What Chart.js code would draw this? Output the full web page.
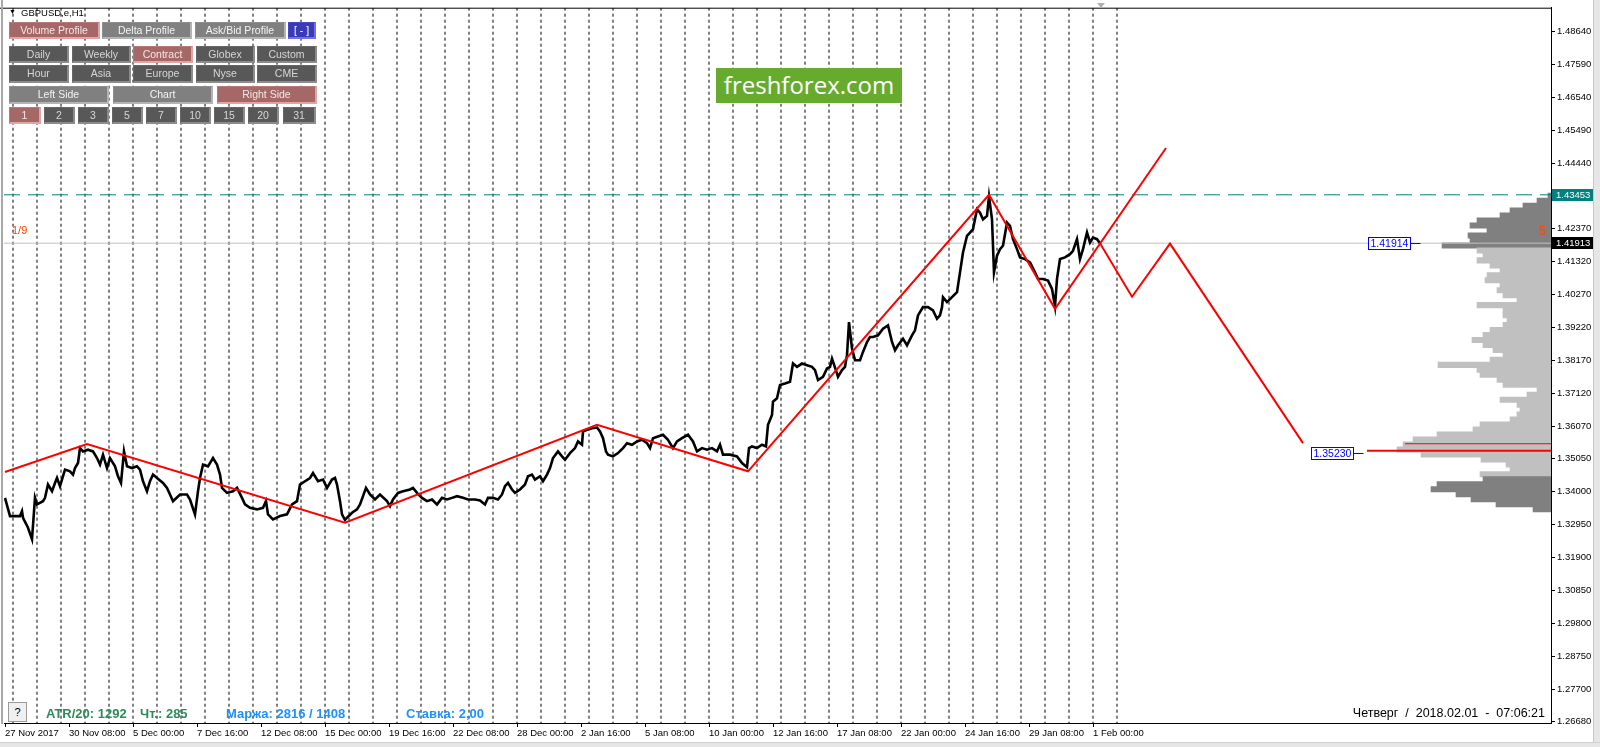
<!DOCTYPE html>
<html><head><meta charset="utf-8">
<script src="https://cdn.jsdelivr.net/npm/chart.js@4.4.1/dist/chart.umd.min.js"></script>
<style>
html,body{margin:0;padding:0;background:#fff;}
#wrap{position:relative;width:1600px;height:747px;overflow:hidden;font-family:"Liberation Sans",Arial,sans-serif;}
#c{position:absolute;left:0;top:0;}
.ov{position:absolute;z-index:5;white-space:pre;}
.b{position:absolute;z-index:6;box-sizing:border-box;text-align:center;font-size:10.5px;white-space:nowrap;overflow:hidden;}
.red{background:#a66767;color:#f6e6e6;border:1px solid #b77a7a;border-right:2px solid #e2a4a4;border-bottom:2px solid #e2a4a4;}
.gray{background:#808080;color:#f4f4f4;border:1px solid #8e8e8e;border-right:2px solid #b4b4b4;border-bottom:2px solid #b4b4b4;}
.dark{background:#585858;color:#d6d6d6;border:1px solid #666;border-right:2px solid #8c8c8c;border-bottom:2px solid #8c8c8c;}
.blue{background:#3a3ab6;color:#fff;border:1px solid #4848c8;border-right:2px solid #7070f0;border-bottom:2px solid #7070f0;}
</style></head>
<body>
<div id="wrap">
<canvas id="c" width="1600" height="747"></canvas>
</div>
<script>
// ---------------- DATA ----------------
const xTickBars = [0,64,128,192,256,320,384,448,512,576,640,704,768,832,896,960,1024,1088];
const xTickLabels = ["27 Nov 2017","30 Nov 08:00","5 Dec 00:00","7 Dec 16:00","12 Dec 08:00","15 Dec 00:00","19 Dec 16:00","22 Dec 08:00","28 Dec 00:00","2 Jan 16:00","5 Jan 08:00","10 Jan 00:00","12 Jan 16:00","17 Jan 08:00","22 Jan 00:00","24 Jan 16:00","29 Jan 08:00","1 Feb 00:00"];
const yTickValues = [1.48640,1.47590,1.46540,1.45490,1.44440,1.42370,1.41320,1.40270,1.39220,1.38170,1.37120,1.36070,1.35050,1.34000,1.32950,1.31900,1.30850,1.29800,1.28750,1.27700,1.26680];
const daySeparatorBars = [8,32,56,80,104,128,152,176,200,224,248,272,296,320,344,368,392,416,440,464,488,512,536,560,584,608,632,656,680,704,728,752,776,800,824,848,872,896,920,944,968,992,1016,1040,1064,1088,1112];

const priceBars = [0,5,15,17,18,23,27,30,32,38,40,43,47,50,52,55,60,65,68,70,73,75,78,83,88,92,95,98,102,105,110,113,116,119,122,127,132,135,138,142,145,148,152,158,162,165,168,175,182,185,190,193,195,198,203,208,212,215,217,222,228,232,237,240,245,252,258,261,263,268,275,282,287,292,295,300,305,308,313,318,322,327,330,332,335,337,340,342,347,352,355,361,365,370,375,382,385,388,393,398,405,408,412,417,422,427,432,437,442,447,452,458,463,470,475,480,483,488,493,497,500,503,507,510,515,520,523,527,530,535,538,542,545,548,553,557,560,565,570,573,577,578,582,587,592,595,598,601,603,608,613,618,622,627,632,637,642,645,648,653,658,663,668,672,677,683,688,692,697,702,707,712,715,718,725,732,737,742,744,747,752,757,761,763,767,768,772,775,780,785,788,792,797,802,807,810,813,818,822,825,827,832,833,837,840,842,844,847,850,855,858,862,865,868,873,878,883,887,890,893,898,902,907,910,913,918,923,928,932,935,937,938,942,947,952,955,958,962,965,968,972,975,978,982,984,987,989,992,995,998,1002,1005,1008,1012,1015,1020,1025,1030,1033,1038,1043,1047,1050,1052,1055,1060,1065,1068,1072,1075,1078,1082,1085,1088,1092,1095];
const priceValues = [1.33805,1.33225,1.33225,1.33384,1.33172,1.32855,1.32488,1.33805,1.33596,1.33700,1.33805,1.34229,1.34017,1.34280,1.34438,1.34176,1.34705,1.34651,1.34546,1.34755,1.34914,1.35389,1.35284,1.35338,1.35284,1.35072,1.34863,1.35180,1.34755,1.35072,1.34809,1.34492,1.34280,1.35284,1.34809,1.34755,1.34809,1.34705,1.34334,1.34017,1.34334,1.34546,1.34438,1.34280,1.34122,1.33913,1.33700,1.33913,1.33913,1.33754,1.33279,1.34017,1.34438,1.34863,1.34809,1.35072,1.34863,1.34546,1.34122,1.33963,1.34017,1.34122,1.33805,1.33596,1.33488,1.33438,1.33488,1.33700,1.33279,1.33121,1.33225,1.33279,1.33596,1.33700,1.34229,1.34334,1.34438,1.34597,1.34334,1.34388,1.34122,1.34388,1.34438,1.34229,1.33700,1.33279,1.33100,1.33172,1.33330,1.33438,1.33596,1.34122,1.33913,1.33754,1.33913,1.33700,1.33542,1.33754,1.33963,1.34017,1.34071,1.34122,1.33963,1.33805,1.33700,1.33754,1.33596,1.33805,1.33754,1.33805,1.33859,1.33805,1.33754,1.33754,1.33723,1.33596,1.33805,1.33805,1.33754,1.33913,1.34176,1.34280,1.34071,1.33963,1.34071,1.34229,1.34492,1.34546,1.34388,1.34492,1.34334,1.34546,1.34755,1.35072,1.35284,1.35126,1.35021,1.35230,1.35389,1.35601,1.35496,1.35918,1.35971,1.36022,1.36044,1.35918,1.35705,1.35284,1.35180,1.35126,1.35230,1.35389,1.35547,1.35496,1.35601,1.35655,1.35547,1.35389,1.35705,1.35759,1.35813,1.35655,1.35389,1.35601,1.35705,1.35813,1.35601,1.35284,1.35389,1.35338,1.35389,1.35284,1.35496,1.35180,1.35180,1.35126,1.34914,1.34780,1.35389,1.35442,1.35389,1.35496,1.35442,1.36130,1.36446,1.36868,1.36972,1.37397,1.37447,1.37501,1.38081,1.37976,1.38081,1.38030,1.37976,1.37872,1.37555,1.37659,1.37922,1.37976,1.38239,1.37764,1.37659,1.37872,1.37976,1.38347,1.39401,1.38556,1.38188,1.38188,1.38451,1.38768,1.38926,1.38926,1.38980,1.39189,1.39297,1.38768,1.38505,1.38663,1.38872,1.38663,1.38980,1.39138,1.39614,1.39876,1.39876,1.39772,1.39506,1.39614,1.39876,1.40193,1.40035,1.40193,1.40351,1.40985,1.41618,1.42147,1.42252,1.42356,1.42990,1.42885,1.42673,1.42781,1.43400,1.42673,1.40985,1.41514,1.41723,1.41830,1.42568,1.42464,1.42040,1.41723,1.41460,1.41406,1.41302,1.40985,1.40773,1.40773,1.40722,1.40456,1.39900,1.40773,1.41406,1.41460,1.41564,1.41672,1.42040,1.41406,1.41723,1.42252,1.41935,1.42093,1.42040,1.41913];

const zigzagBars = [0,82,340,592,743,984,1050,1161];
const zigzagValues = [1.34629,1.35516,1.33014,1.36130,1.34651,1.43453,1.39823,1.44944];
const projectionBars = [1095,1127,1165,1298];
const projectionValues = [1.41913,1.40206,1.41900,1.35547];

const currentPrice = 1.41913;
const highLevel = 1.43453;
const pocLevels = [1.35528,1.35306];

const profileLevels = [1.43424,1.43265,1.43107,1.42949,1.42790,1.42632,1.42473,1.42315,1.42157,1.41998,1.41840,1.41682,1.41523,1.41365,1.41207,1.41048,1.40890,1.40731,1.40573,1.40415,1.40256,1.40098,1.39940,1.39781,1.39623,1.39465,1.39306,1.39148,1.38989,1.38831,1.38673,1.38514,1.38356,1.38198,1.38039,1.37881,1.37722,1.37564,1.37406,1.37247,1.37089,1.36931,1.36772,1.36614,1.36456,1.36297,1.36139,1.35980,1.35822,1.35664,1.35505,1.35347,1.35189,1.35030,1.34872,1.34713,1.34555,1.34397,1.34238,1.34080,1.33922,1.33763,1.33605,1.33447];
const profileVolumes = [3,14,28,41,51,74,81,64,83,81,109,74,68,74,61,51,64,66,51,54,48,34,74,48,48,44,48,61,68,79,68,58,48,61,113,74,71,54,48,14,24,51,34,31,34,41,71,78,114,138,148,154,130,70,45,41,71,68,114,120,95,80,55,18];

const priceLabels = [{bar:1363,price:1.41914,text:"1.41914"},{bar:1306,price:1.35230,text:"1.35230"}];
const axisMarks = [{price:1.43453,bg:"#008080",fg:"#ffffff"},{price:1.41913,bg:"#000000",fg:"#ffffff"}];

// ---------------- CHART ----------------
const X_MIN=-1, X_MAX=1546, Y_MIN=1.26638, Y_MAX=1.49409;
const pts=(bs,vs)=>bs.map((b,i)=>({x:b,y:vs[i]}));
const sepData=[];
daySeparatorBars.forEach(b=>{sepData.push({x:b,y:Y_MAX},{x:b,y:Y_MIN},{x:b,y:null});});
const FONT='"Liberation Sans", Arial, sans-serif';

const decor={
  id:'decor',
  afterDraw(chart){
    const {ctx,chartArea:a,scales}=chart; const x=scales.x,y=scales.y;
    ctx.save();
    ctx.strokeStyle='#000';ctx.lineWidth=1;
    ctx.beginPath();ctx.moveTo(0,a.top+0.5);ctx.lineTo(a.right+1,a.top+0.5);ctx.stroke();
    ctx.fillStyle='#a8a8a8';ctx.fillRect(1,0,2,a.bottom+1);
    axisMarks.forEach(m=>{
      const py=Math.round(y.getPixelForValue(m.price));
      ctx.fillStyle=m.bg;ctx.fillRect(a.right+1,py-6,42,12);
      ctx.fillStyle=m.fg;ctx.font='9.5px '+FONT;ctx.textBaseline='middle';ctx.textAlign='left';
      ctx.fillText(m.price.toFixed(5),a.right+5,py+0.5);
    });
    priceLabels.forEach(l=>{
      const px=Math.round(x.getPixelForValue(l.bar))+0.5, py=Math.round(y.getPixelForValue(l.price))+0.5;
      ctx.font='10.5px '+FONT;
      const w=Math.round(ctx.measureText(l.text).width)+4;
      ctx.fillStyle='#fff';ctx.fillRect(px,py-6,w,12);
      ctx.strokeStyle='#0000ff';ctx.lineWidth=1;ctx.strokeRect(px,py-6,w,12);
      ctx.beginPath();ctx.moveTo(px+w,py);ctx.lineTo(px+w+10,py);ctx.stroke();
      ctx.fillStyle='#0000ff';ctx.textBaseline='middle';ctx.textAlign='left';
      ctx.fillText(l.text,px+2,py+0.5);
    });
    ctx.restore();
  }
};

new Chart(document.getElementById('c'),{
  type:'line',
  data:{datasets:[
    {label:'projection',data:pts(projectionBars,projectionValues),borderColor:'#ff0000',borderWidth:2,pointRadius:0,order:1},
    {label:'zigzag',data:pts(zigzagBars,zigzagValues),borderColor:'#ff0000',borderWidth:2,pointRadius:0,order:2},
    {label:'poc1',data:[{x:1400,y:pocLevels[0]},{x:X_MAX,y:pocLevels[0]}],borderColor:'#ff0000',borderWidth:1,pointRadius:0,order:3},
    {label:'poc2',data:[{x:1362,y:pocLevels[1]},{x:X_MAX,y:pocLevels[1]}],borderColor:'#ff0000',borderWidth:2,pointRadius:0,order:3},
    {label:'GBPUSD',data:pts(priceBars,priceValues),borderColor:'#000000',borderWidth:2.6,pointRadius:0,tension:0,order:4},
    {label:'high',data:[{x:X_MIN,y:highLevel},{x:X_MAX,y:highLevel}],borderColor:'#008080',borderWidth:1,borderDash:[16,8],pointRadius:0,order:5},
    {label:'bid',data:[{x:X_MIN,y:currentPrice},{x:X_MAX,y:currentPrice}],borderColor:'#c0c0c0',borderWidth:1,pointRadius:0,order:6},
    {type:'bar',label:'profile',indexAxis:'y',xAxisID:'xv',yAxisID:'y',
     data:profileLevels.map((p,i)=>({x:profileVolumes[i],y:p})),
     backgroundColor:(c)=>{const p=profileLevels[c.dataIndex];return (p>=1.4184||p<=1.3440)?'#808080':'#c0c0c0';},
     barThickness:5.4,borderWidth:0,grouped:false,order:7},
    {label:'days',data:sepData,borderColor:'#000000',borderWidth:1,borderDash:[3,3],pointRadius:0,spanGaps:false,order:8}
  ]},
  options:{
    responsive:false,animation:false,devicePixelRatio:1,
    layout:{padding:{left:4,top:4,right:0,bottom:0}},
    plugins:{legend:{display:false},tooltip:{enabled:false}},
    scales:{
      x:{type:'linear',min:X_MIN,max:X_MAX,offset:false,position:'bottom',
        afterBuildTicks:(s)=>{s.ticks=xTickBars.map(v=>({value:v}));},
        afterFit:(s)=>{s.height=24;},
        ticks:{autoSkip:false,maxRotation:0,minRotation:0,align:'start',padding:1,color:'#000',font:{family:FONT,size:9.5},
          callback:(v)=>{const i=xTickBars.indexOf(v);return i>=0?xTickLabels[i]:'';}},
        grid:{drawOnChartArea:false,drawTicks:true,tickLength:4,color:'#000',offset:false},
        border:{display:true,color:'#000',width:1}},
      xv:{type:'linear',axis:'x',display:false,reverse:true,min:0,max:1547,offset:false,grid:{display:false}},
      y:{type:'linear',position:'right',min:Y_MIN,max:Y_MAX,offset:false,
        afterBuildTicks:(s)=>{s.ticks=yTickValues.map(v=>({value:v}));},
        afterFit:(s)=>{s.width=49;},
        ticks:{padding:2,color:'#000',font:{family:FONT,size:9.5},callback:(v)=>Number(v).toFixed(5)},
        grid:{drawOnChartArea:false,drawTicks:true,tickLength:4,color:'#000',offset:false},
        border:{display:true,color:'#000',width:1}}
    }
  },
  plugins:[decor]
});

// ---------------- OVERLAYS (panel, texts) ----------------
const wrap=document.getElementById('wrap');
function add(html,css,cls){const d=document.createElement('div');d.className=cls||'ov';d.style.cssText=css;d.innerHTML=html;wrap.appendChild(d);return d;}
const buttons=[
 ['Volume Profile',9,22,91,17,'red'],['Delta Profile',102,22,90,17,'gray'],['Ask/Bid Profile',195,22,91,17,'gray'],['[ - ]',288,22,28,17,'blue'],
 ['Daily',9,46,60,17,'dark'],['Weekly',72,46,59,17,'dark'],['Contract',133,46,60,17,'red'],['Globex',196,46,59,17,'dark'],['Custom',257,46,60,17,'dark'],
 ['Hour',9,65,60,18,'dark'],['Asia',72,65,59,18,'dark'],['Europe',133,65,60,18,'dark'],['Nyse',196,65,59,18,'dark'],['CME',257,65,60,18,'dark'],
 ['Left Side',9,86,100,18,'gray'],['Chart',113,86,100,18,'gray'],['Right Side',217,86,100,18,'red'],
 ['1',9,107,32,17,'red'],['2',44,107,31,17,'dark'],['3',78,107,31,17,'dark'],['5',112,107,31,17,'dark'],['7',146,107,31,17,'dark'],['10',180,107,31,17,'dark'],['15',214,107,31,17,'dark'],['20',248,107,31,17,'dark'],['31',283,107,33,17,'dark']
];
buttons.forEach(b=>add(b[0],`left:${b[1]}px;top:${b[2]}px;width:${b[3]}px;height:${b[4]}px;line-height:${b[4]-3}px;`,'b '+b[5]));
add('&#9660;','left:9px;top:8px;font-size:7px;color:#000;');
add('GBPUSD,e,H1','left:21px;top:7px;font-size:9.5px;color:#000;');
add('freshforex.com','left:716px;top:68px;width:186px;height:35px;line-height:34px;text-align:center;background:#67ab2e;color:#fff;font-family:"Open Sans",sans-serif;font-size:24px;');
add('1/9','left:12px;top:224px;font-size:11px;color:#ff4500;');
add('5','left:1539px;top:224px;font-size:12px;color:#ff4500;');
add('?','left:8px;top:702px;width:19px;height:20px;box-sizing:border-box;border:1px solid #9a9a9a;background:#f0f0f0;text-align:center;line-height:18px;font-size:11px;color:#000;');
add('ATR/20: 1292','left:46px;top:706px;font-size:13px;font-weight:bold;color:#2e8b57;');
add('Чт.: 285','left:140px;top:706px;font-size:13px;font-weight:bold;color:#2e8b57;');
add('Маржа: 2816 / 1408','left:226px;top:706px;font-size:13px;font-weight:bold;color:#1e90ff;');
add('Ставка: 2,00','left:406px;top:706px;font-size:13px;font-weight:bold;color:#1e90ff;');
add('Четверг  /  2018.02.01  -  07:06:21','right:55px;top:706px;font-size:12.5px;color:#000;');
add('','left:1097px;top:3px;width:0;height:0;border-left:4px solid transparent;border-right:4px solid transparent;border-top:5px solid #b0b0b0;');
add('','left:1593px;top:0;width:7px;height:747px;background:#e6e6e6;border-left:1px solid #c8c8c8;box-sizing:border-box;');
add('','left:0;top:742px;width:1600px;height:5px;background:#e6e6e6;border-top:1px solid #d0d0d0;box-sizing:border-box;');
</script>
</body></html>
